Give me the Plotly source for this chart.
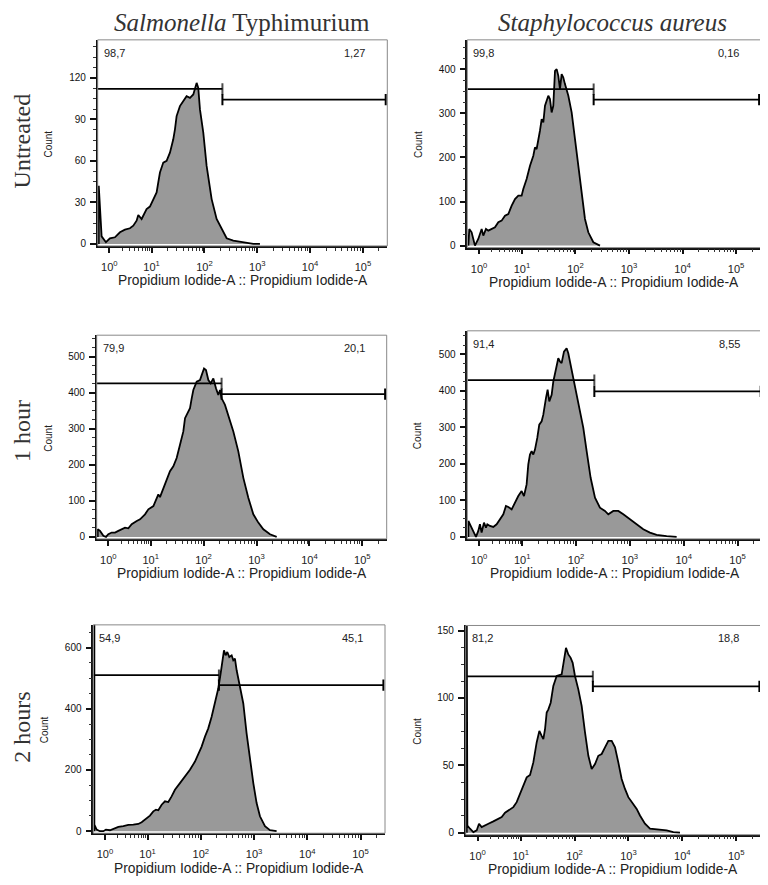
import plotly.graph_objects as go
import math

# ---------------- data (x = display position in decades of PI-A, y = count) ----------------
sal_untr_x = [0.0, 0.0, 0.054, 0.136, 0.211, 0.306, 0.401, 0.495, 0.590, 0.653, 0.716, 0.748, 0.811, 0.905,
              0.968, 1.032, 1.095, 1.126, 1.158, 1.221, 1.284, 1.347, 1.410, 1.442, 1.473, 1.536, 1.599,
              1.662, 1.726, 1.789, 1.852, 1.883, 1.915, 1.978, 2.041, 2.136, 2.230, 2.325, 2.420, 2.546,
              2.735, 2.924, 3.050]
sal_untr_y = [0, 42, 5.5, 1.2, 4, 4.8, 8.4, 10.3, 11.3, 13.2, 16.8, 20.9, 18, 25.2, 27, 32.4, 37.2, 44.4,
              51.6, 58.8, 60, 66, 75.6, 82.8, 92.4, 99.6, 103.2, 106.8, 105.6, 108, 116.4, 112.8, 97.2,
              80.4, 56.4, 32.4, 18, 10.8, 4.1, 2.4, 1.2, 0, 0]

sta_untr_x = [0.0, 0.017, 0.061, 0.123, 0.185, 0.248, 0.279, 0.329, 0.372, 0.435, 0.497, 0.559, 0.621, 0.684,
              0.746, 0.809, 0.871, 0.933, 0.995, 1.026, 1.088, 1.151, 1.213, 1.244, 1.275, 1.337, 1.369,
              1.400, 1.431, 1.493, 1.524, 1.555, 1.586, 1.618, 1.649, 1.680, 1.711, 1.742, 1.773, 1.804,
              1.867, 1.929, 1.991, 2.053, 2.116, 2.178, 2.240, 2.334, 2.458]
sta_untr_y = [0, 37.8, 30.2, 0, 15.1, 37.8, 22.7, 37.8, 34, 37.8, 41.5, 52.9, 56.6, 68, 71.7, 90.6, 105.7,
              113.3, 113.3, 128.4, 151, 181.2, 203.9, 222.7, 219, 260.5, 286.9, 279.4, 317.1, 339.8, 332.2,
              302, 317.1, 396.4, 400.2, 385, 354.9, 388.8, 381.3, 366.2, 339.8, 302, 241.6, 181.2, 113.3,
              60.4, 30.2, 7.6, 0]

sal_1h_x = [0.0, 0.0, 0.043, 0.106, 0.156, 0.200, 0.263, 0.326, 0.389, 0.452, 0.515, 0.578, 0.641, 0.736,
            0.799, 0.893, 0.956, 1.051, 1.113, 1.145, 1.176, 1.239, 1.302, 1.365, 1.428, 1.491, 1.554, 1.617,
            1.649, 1.712, 1.743, 1.775, 1.806, 1.869, 1.932, 1.964, 2.008, 2.045, 2.090, 2.134, 2.184, 2.234,
            2.278, 2.310, 2.341, 2.404, 2.467, 2.562, 2.656, 2.751, 2.845, 2.940, 3.034, 3.129, 3.255, 3.381]
sal_1h_y = [0, 21.2, 16.6, 2.8, 0, 7.4, 12, 12, 16.6, 21.2, 25.8, 23.9, 35, 44.2, 48.8, 62.6, 76.4, 85.6,
            108.6, 117.8, 110.4, 136.2, 159.2, 182.2, 196, 219, 255.8, 292.6, 329.4, 347.8, 357, 384.6,
            407.6, 430.6, 435.2, 449, 467.4, 462.8, 435.2, 426, 439.8, 412.2, 393.8, 407.6, 384.6, 366.2,
            338.6, 292.6, 237.4, 163.8, 108.6, 62.6, 39.6, 21.2, 7.4, 0]

sta_1h_x = [0.0, 0.0, 0.030, 0.091, 0.141, 0.184, 0.215, 0.246, 0.290, 0.327, 0.352, 0.401, 0.463, 0.525,
            0.587, 0.649, 0.698, 0.742, 0.804, 0.865, 0.927, 0.989, 1.033, 1.082, 1.113, 1.144, 1.175, 1.206,
            1.237, 1.280, 1.317, 1.361, 1.392, 1.441, 1.472, 1.503, 1.547, 1.578, 1.639, 1.670, 1.701, 1.732,
            1.776, 1.825, 1.856, 1.900, 1.949, 2.011, 2.073, 2.135, 2.197, 2.271, 2.352, 2.444, 2.537, 2.599,
            2.692, 2.785, 2.878, 3.002, 3.126, 3.249, 3.373, 3.497, 3.683, 3.869]
sta_1h_y = [0, 43.6, 34.5, 16.4, 0, 16.4, 34.5, 11.8, 39.1, 25.5, 34.5, 30, 27.3, 34.5, 48.2, 61.8, 84.5,
            81.8, 75.4, 93.6, 111.8, 125.4, 111.8, 143.6, 198.2, 225.4, 234.5, 225.4, 239, 270.9, 307.2,
            316.3, 334.5, 380, 402.7, 370.9, 389, 425.4, 470.9, 489, 480, 475.4, 507.2, 516.3, 502.7, 470.9,
            434.5, 389, 352.7, 298.2, 234.5, 161.8, 107.3, 80, 70.9, 61.8, 70.9, 70.9, 61.8, 48.2, 34.5,
            20.9, 11.8, 5.5, 1.8, 0]

sal_2h_x = [0.0, 0.0, 0.0, 0.043, 0.105, 0.168, 0.218, 0.293, 0.356, 0.450, 0.544, 0.637, 0.731, 0.825, 0.888,
            0.982, 1.044, 1.107, 1.157, 1.201, 1.264, 1.326, 1.389, 1.451, 1.514, 1.608, 1.702, 1.796,
            1.890, 1.952, 2.015, 2.078, 2.140, 2.203, 2.266, 2.328, 2.372, 2.410, 2.435, 2.466, 2.497,
            2.535, 2.579, 2.610, 2.641, 2.673, 2.735, 2.798, 2.860, 2.923, 2.986, 3.048, 3.111, 3.205,
            3.299, 3.424]
sal_2h_y = [0, 700, 21.7, 5.4, 0, 0, 5.4, 3.3, 7.6, 14.1, 16.3, 20.6, 21.7, 23.8, 29.3, 43.4, 51, 65, 70.5,
            68.3, 86.7, 97.6, 95.4, 113.8, 135.5, 157.2, 178.9, 200.6, 227.6, 249.3, 276.4, 308.9, 336,
            374, 417.3, 466.1, 514.9, 558.3, 590.8, 574.5, 585.4, 569.1, 574.5, 558.3, 563.7, 525.7,
            471.5, 417.3, 319.8, 233.1, 157.2, 92.1, 48.8, 16.3, 3.3, 0]

sta_2h_x = [0.0, 0.0, 0.011, 0.060, 0.122, 0.184, 0.227, 0.277, 0.320, 0.401, 0.493, 0.586, 0.648, 0.710,
            0.772, 0.864, 0.926, 0.988, 1.050, 1.112, 1.174, 1.235, 1.297, 1.347, 1.390, 1.421, 1.452,
            1.483, 1.514, 1.557, 1.606, 1.668, 1.761, 1.804, 1.841, 1.885, 1.928, 1.965, 2.008, 2.070,
            2.132, 2.194, 2.256, 2.318, 2.380, 2.441, 2.503, 2.565, 2.627, 2.689, 2.751, 2.812, 2.874,
            2.936, 2.998, 3.091, 3.153, 3.214, 3.307, 3.400, 3.524, 3.709, 3.833, 3.957]
sta_2h_y = [0, 160, 5.4, 2.96, 0.5, 1.7, 6.7, 4.2, 4.9, 6.7, 8.4, 10.3, 11.6, 14.8, 16.5, 19, 22.7, 28.8,
            35, 41.1, 42.9, 52.2, 67, 75.6, 71.9, 69.5, 76.8, 89.2, 91.6, 96.5, 108.9, 116.3, 117.5, 129.8,
            137.2, 132.3, 129.8, 126.1, 116.3, 106.4, 94.1, 74.4, 57.1, 47.3, 51, 57.1, 58.4, 63.3, 68.2,
            68.2, 63.3, 52.2, 39.9, 32.5, 26.4, 21.2, 17.7, 12.8, 6.7, 3, 2.5, 1.7, 0.5, 0]

# gates (display decades / counts) and gate percentages
gate_split = [2.34, 2.34, 2.34, 2.34, 2.34, 2.34]
gate_left_y = [112, 355, 426, 429, 510, 116]
gate_right_y = [104.3, 331, 396, 398, 477, 108.6]
pct_left = ["98,7", "99,8", "79,9", "91,4", "54,9", "81,2"]
pct_right = ["1,27", "0,16", "20,1", "8,55", "45,1", "18,8"]

y_dtick = [30, 100, 100, 100, 200, 50]
y_max_tick = [120, 400, 500, 500, 600, 150]

x_tick_pos = [0.2, 1, 2, 3, 4, 5]
x_tick_text = ["10<sup>0</sup>", "10<sup>1</sup>", "10<sup>2</sup>",
               "10<sup>3</sup>", "10<sup>4</sup>", "10<sup>5</sup>"]

col_titles = ["<i>Salmonella</i> Typhimurium", "<i>Staphylococcus aureus</i>"]
row_titles = ["Untreated", "1 hour", "2 hours"]
x_title = "Propidium Iodide-A :: Propidium Iodide-A"
y_title = "Count"

series = [(sal_untr_x, sal_untr_y), (sta_untr_x, sta_untr_y),
          (sal_1h_x, sal_1h_y), (sta_1h_x, sta_1h_y),
          (sal_2h_x, sal_2h_y), (sta_2h_x, sta_2h_y)]

# ---------------- layout geometry (target page pixels) ----------------
OFF = 8                       # default page margin of the html body
W, H = 768 - OFF, 885 - OFF   # figure size


def px(v):
    return (v - OFF) / W


def py(v):
    return 1 - (v - OFF) / H


# (left, right, top, zero-line y, y range top)
panels = [
    (97.7, 387.3, 40.0, 245.0, 147.5),
    (467.3, 760.7, 40.0, 246.7, 466.6),
    (96.7, 386.7, 336.7, 539.3, 559.7),
    (467.3, 762.3, 332.3, 539.3, 564.0),
    (93.3, 385.0, 627.7, 835.0, 674.0),
    (465.7, 761.0, 628.3, 836.5, 153.8),
]
XR = [-0.02, 5.46]

minor_x = []
for k in range(2, 10):
    minor_x.append(0.2 + 0.8 * math.log10(k))
for d in range(1, 5):
    for k in range(2, 10):
        minor_x.append(d + math.log10(k))
minor_x.append(5 + math.log10(2))

fig = go.Figure()
layout = dict(width=W, height=H, margin=dict(l=0, r=0, t=0, b=0),
              paper_bgcolor="white", plot_bgcolor="white", showlegend=False)
annotations = []
shapes = []

SANS = "Liberation Sans, Arial, sans-serif"
SERIF = "Liberation Serif, Times New Roman, serif"

for i, ((xs, ys), (l, r, t, z, ytop)) in enumerate(zip(series, panels)):
    n = i + 1
    xa = "x" if n == 1 else f"x{n}"
    ya = "y" if n == 1 else f"y{n}"
    bottom = z + 2
    ppu = (z - t) / ytop
    ylow = -2 / ppu
    fig.add_trace(go.Scatter(x=xs, y=ys, mode="lines", xaxis=xa, yaxis=ya,
                             line=dict(color="black", width=1.8, shape="linear"),
                             fill="tozeroy", fillcolor="#999999", hoverinfo="skip"))
    # gates
    fig.add_trace(go.Scatter(x=[XR[0], gate_split[i]], y=[gate_left_y[i]] * 2, mode="lines+markers",
                             xaxis=xa, yaxis=ya, line=dict(color="black", width=1.8),
                             marker=dict(symbol="line-ns-open", size=[0, 8], color="black",
                                         line=dict(width=2, color="black")), hoverinfo="skip"))
    fig.add_trace(go.Scatter(x=[gate_split[i], 5.43], y=[gate_right_y[i]] * 2, mode="lines+markers",
                             xaxis=xa, yaxis=ya, line=dict(color="black", width=1.8),
                             marker=dict(symbol="line-ns-open", size=8, color="black",
                                         line=dict(width=2, color="black")), hoverinfo="skip"))

    xkey = "xaxis" if n == 1 else f"xaxis{n}"
    ykey = "yaxis" if n == 1 else f"yaxis{n}"
    layout[xkey] = dict(domain=[px(l), px(r)], anchor=ya, range=XR, showgrid=False, zeroline=False,
                        showline=True, linecolor="#111", linewidth=1.5,
                        ticks="outside", ticklen=5, tickwidth=1.5, tickcolor="#111",
                        tickmode="array", tickvals=x_tick_pos, ticktext=x_tick_text,
                        tickfont=dict(family=SANS, size=11, color="#222"), ticklabelstandoff=5,
                        minor=dict(ticks="outside", ticklen=3, tickwidth=1, tickcolor="#333",
                                   tickvals=minor_x, showgrid=False),
                        fixedrange=True)
    layout[ykey] = dict(domain=[py(bottom), py(t)], anchor=xa, range=[ylow, ytop],
                        showgrid=False, zeroline=False, showline=True, linecolor="#111", linewidth=1.5,
                        ticks="outside", ticklen=6, tickwidth=1.5, tickcolor="#111",
                        tickmode="array", tickvals=list(range(0, y_max_tick[i] + 1, y_dtick[i])),
                        tickfont=dict(family=SANS, size=10, color="#111"), ticklabelstandoff=2,
                        minor=dict(ticks="outside", ticklen=3, tickwidth=1, tickcolor="#333",
                                   dtick=y_dtick[i] / 4, showgrid=False),
                        fixedrange=True)
    # grey frame (top/right)
    shapes.append(dict(type="rect", xref=f"{xa} domain", yref=f"{ya} domain", x0=0, x1=1, y0=0, y1=1,
                       line=dict(color="#888", width=1), layer="above"))
    # percentage labels
    annotations.append(dict(x=px(l + 4), y=py(t + 13), xref="paper", yref="paper",
                            text=pct_left[i], showarrow=False, xanchor="left", yanchor="middle",
                            font=dict(family=SANS, size=11, color="#222")))
    annotations.append(dict(x=px(r - 20), y=py(t + 13), xref="paper", yref="paper",
                            text=pct_right[i], showarrow=False, xanchor="right", yanchor="middle",
                            font=dict(family=SANS, size=11, color="#222")))
    # axis titles
    annotations.append(dict(x=px((l + r) / 2), y=py(z + 37), xref="paper", yref="paper",
                            text=x_title, showarrow=False, xanchor="center", yanchor="middle",
                            font=dict(family=SANS, size=13.8, color="#222")))
    annotations.append(dict(x=px(l - 49), y=py((t + z) / 2 + 2), xref="paper", yref="paper",
                            text=y_title, showarrow=False, textangle=-90, xanchor="center",
                            yanchor="middle", font=dict(family=SANS, size=10, color="#222")))

# column titles (kept just inside the top edge of the figure)
for cx, txt in zip([242, 612], col_titles):
    annotations.append(dict(x=px(cx), y=1.0, xref="paper", yref="paper", text=txt,
                            showarrow=False, xanchor="center", yanchor="top", borderpad=0,
                            font=dict(family=SERIF, size=25, color="#333")))
# row titles (kept just inside the left edge of the figure)
for cy, txt in zip([142, 433, 731], row_titles):
    annotations.append(dict(x=0.0, y=py(cy), xref="paper", yref="paper", text=txt,
                            showarrow=False, textangle=-90, xanchor="left", yanchor="middle",
                            borderpad=0, font=dict(family=SERIF, size=24, color="#333")))

layout["annotations"] = annotations
layout["shapes"] = shapes
fig.update_layout(**layout)
fig.write_html("out.html")
